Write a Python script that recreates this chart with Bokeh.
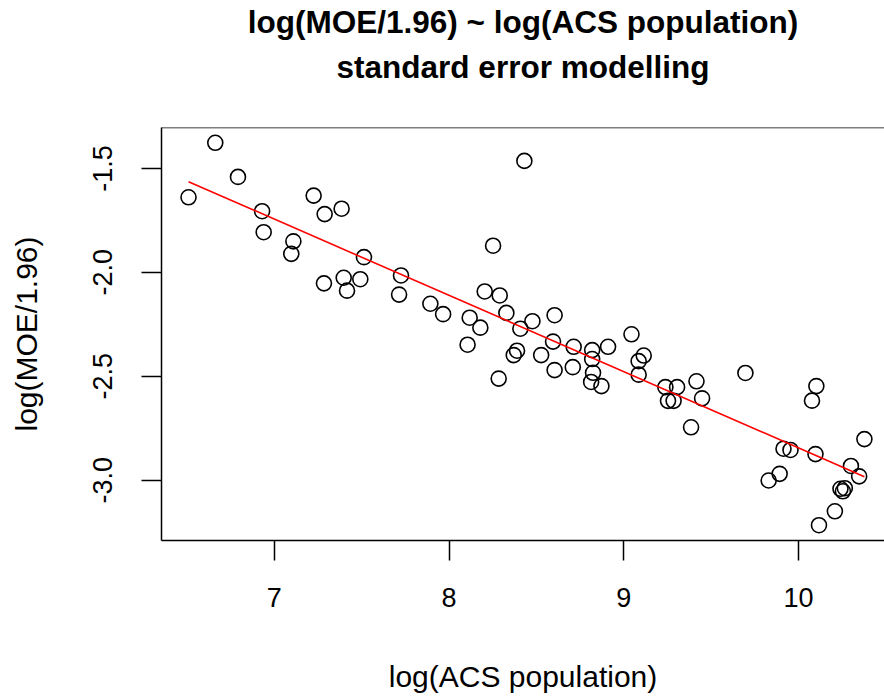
from bokeh.plotting import figure
from bokeh.models import Range1d, FixedTicker, Span, ColumnDataSource, LinearAxis
from bokeh.embed import file_html
from bokeh.resources import INLINE
import numpy as np

# log(ACS population)
log_pop = [6.509, 6.662, 6.792, 6.930, 6.939, 7.109, 7.097, 7.225, 7.288, 7.385,
           7.284, 7.397, 7.416, 7.492, 7.513, 7.725, 7.714, 7.893, 7.966, 8.118,
           8.204, 8.179, 8.106, 8.252, 8.290, 8.284, 8.328, 8.408, 8.431, 8.477,
           8.389, 8.370, 8.604, 8.595, 8.527, 8.604, 8.713, 8.708, 8.819, 8.819,
           8.910, 8.824, 8.813, 8.872, 9.044, 9.114, 9.085, 9.085, 9.238, 9.305,
           9.253, 9.285, 9.416, 9.448, 9.385, 9.696, 10.102, 10.077, 9.914, 9.954,
           10.097, 10.377, 9.892, 9.829, 10.300, 10.347, 10.240, 10.265, 10.254,
           10.208, 10.117]
# log(MOE/1.96)
log_se = [-1.639, -1.377, -1.541, -1.706, -1.807, -1.851, -1.911, -1.631, -1.720, -1.694,
          -2.053, -2.026, -2.088, -2.033, -1.927, -2.015, -2.107, -2.151, -2.201, -2.218,
          -2.092, -2.266, -2.348, -1.872, -2.111, -2.511, -2.195, -2.271, -1.464, -2.235,
          -2.377, -2.398, -2.206, -2.333, -2.398, -2.470, -2.358, -2.456, -2.374, -2.417,
          -2.358, -2.483, -2.527, -2.547, -2.298, -2.400, -2.427, -2.492, -2.552, -2.552,
          -2.618, -2.618, -2.524, -2.606, -2.745, -2.484, -2.547, -2.617, -2.848, -2.854,
          -2.874, -2.802, -2.969, -3.001, -2.931, -2.981, -3.041, -3.038, -3.053,
          -3.149, -3.216]

# fitted regression line: y = intercept + slope * x
fit_intercept = 0.8236
fit_slope = -0.3668

x_ticks = [7, 8, 9, 10]
y_ticks = [-3.0, -2.5, -2.0, -1.5]
y_tick_labels = ["-3.0", "-2.5", "-2.0", "-1.5"]

title_line1 = "log(MOE/1.96) ~ log(ACS population)"
title_line2 = "standard error modelling"
x_label = "log(ACS population)"
y_label = "log(MOE/1.96)"

FONT = "Liberation Sans"

xmin, xmax = min(log_pop), max(log_pop)
ymin, ymax = min(log_se), max(log_se)
x_start = xmin - 0.04 * (xmax - xmin)
y_pad = 0.04 * (ymax - ymin)

p = figure(width=884, height=698, output_backend="svg", toolbar_location=None,
           x_range=Range1d(x_start, 10.492), y_range=Range1d(ymin - y_pad, ymax + y_pad),
           min_border_left=161, min_border_right=0, min_border_top=122, min_border_bottom=158)
p.title.text = ""
p.title.visible = False

# keep references to the real axes before any extra axis is added
x_axis = p.below[0]
y_axis = p.left[0]


def title_axis(text, standoff):
    # a bare axis above the plot whose only visible part is its (bold, centred) label
    ax = LinearAxis(ticker=FixedTicker(ticks=[]), axis_label=text,
                    axis_label_standoff=standoff, axis_label_text_font=FONT,
                    axis_label_text_font_size="31.5px", axis_label_text_font_style="bold",
                    axis_label_text_color="black", axis_line_color=None,
                    major_tick_line_color=None, minor_tick_line_color=None,
                    major_tick_out=0, major_tick_in=0, minor_tick_out=0, minor_tick_in=0,
                    major_label_standoff=0)
    p.add_layout(ax, "above")


# first added sits next to the plot frame
title_axis(title_line2, 43)
title_axis(title_line1, 6)

p.background_fill_color = "white"
p.border_fill_color = "white"
p.outline_line_color = None
p.xgrid.visible = False
p.ygrid.visible = False

for ax in (x_axis, y_axis):
    ax.axis_line_color = "black"
    ax.axis_line_width = 1.5
    ax.major_tick_line_color = "black"
    ax.major_tick_line_width = 1.5
    ax.major_tick_out = 20
    ax.major_tick_in = 0
    ax.minor_tick_line_color = None
    ax.major_label_text_font = FONT
    ax.major_label_text_font_size = "27px"
    ax.major_label_text_color = "black"
    ax.axis_label_text_font = FONT
    ax.axis_label_text_font_size = "30px"
    ax.axis_label_text_font_style = "normal"
    ax.axis_label_text_color = "black"

x_axis.ticker = FixedTicker(ticks=x_ticks)
y_axis.ticker = FixedTicker(ticks=y_ticks)
y_axis.major_label_overrides = {t: l for t, l in zip(y_ticks, y_tick_labels)}
y_axis.major_label_orientation = "vertical"
x_axis.axis_label = x_label
y_axis.axis_label = y_label
x_axis.major_label_standoff = 27
x_axis.axis_label_standoff = 50
y_axis.major_label_standoff = 29
y_axis.axis_label_standoff = 48

# top border of the box
p.add_layout(Span(location=ymax + y_pad, dimension="width", line_color="black", line_width=1.5))

src = ColumnDataSource(dict(x=log_pop, y=log_se))
p.scatter("x", "y", source=src, marker="circle", size=15, fill_color=None,
          line_color="black", line_width=1.6)

xs = np.sort(np.array(log_pop))
line_x = [xs[0], xs[-1]]
line_y = [fit_intercept + fit_slope * v for v in line_x]
p.line(line_x, line_y, line_color="red", line_width=1.6)

open("out.html", "w").write(file_html(p, INLINE))
